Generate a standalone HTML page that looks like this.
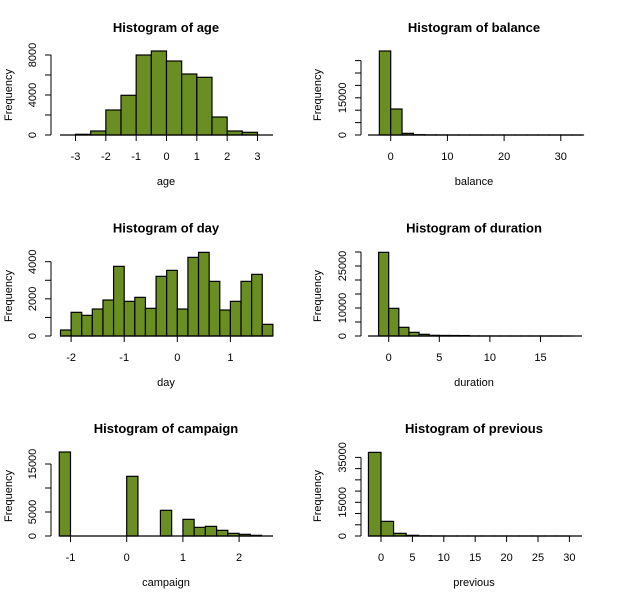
<!DOCTYPE html>
<html><head><meta charset="utf-8">
<style>
html,body{margin:0;padding:0;background:#fff;}
svg{display:block;font-family:"Liberation Sans",Arial,sans-serif;}
</style></head>
<body>
<svg id="chart" width="617" height="601" viewBox="0 0 617 601" xmlns="http://www.w3.org/2000/svg"></svg>
<script>
// ---- data ----
const ageCounts = [70, 400, 2500, 3970, 8000, 8400, 7400, 6100, 5770, 1800, 400, 270];
const ageBreakStart = -3, ageBinWidth = 0.5;
const ageXTicks = [-3, -2, -1, 0, 1, 2, 3];
const ageYTicks = [0, 2000, 4000, 6000, 8000];
const ageYLabels = ["0", "", "4000", "", "8000"];

const balanceCounts = [33870, 10480, 670, 120, 40, 20, 10, 5, 5, 3, 2, 2, 1, 1, 1, 1, 1, 1];
const balanceBreakStart = -2, balanceBinWidth = 2;
const balanceXTicks = [0, 10, 20, 30];
const balanceYTicks = [0, 5000, 10000, 15000, 20000, 25000, 30000];
const balanceYLabels = ["0", "", "", "15000", "", "", ""];

const dayCounts = [323, 1274, 1112, 1453, 1937, 3749, 1866, 2081, 1489, 3211, 3534, 1453, 4234, 4503, 2942, 1399, 1866, 2942, 3319, 628];
const dayBreakStart = -2.2, dayBinWidth = 0.2;
const dayXTicks = [-2, -1, 0, 1];
const dayYTicks = [0, 1000, 2000, 3000, 4000];
const dayYLabels = ["0", "", "2000", "", "4000"];

const durationCounts = [29880, 9880, 3100, 1310, 600, 240, 200, 180, 150, 30, 20, 10, 5, 5, 3, 2, 1, 1, 1];
const durationBreakStart = -1, durationBinWidth = 1;
const durationXTicks = [0, 5, 10, 15];
const durationYTicks = [0, 5000, 10000, 15000, 20000, 25000, 30000];
const durationYLabels = ["0", "", "10000", "", "", "25000", ""];

const campaignCounts = [17500, 0, 0, 0, 0, 0, 12430, 0, 0, 5350, 0, 3470, 1800, 2010, 1180, 555, 350, 140];
const campaignBreakStart = -1.2, campaignBinWidth = 0.2;
const campaignXTicks = [-1, 0, 1, 2];
const campaignYTicks = [0, 5000, 10000, 15000];
const campaignYLabels = ["0", "5000", "", "15000"];

const previousCounts = [37240, 6530, 1190, 300, 60, 20, 10, 5, 3, 2, 1, 1, 1, 1, 1, 1];
const previousBreakStart = -2, previousBinWidth = 2;
const previousXTicks = [0, 5, 10, 15, 20, 25, 30];
const previousYTicks = [0, 5000, 10000, 15000, 20000, 25000, 30000, 35000];
const previousYLabels = ["0", "", "", "15000", "", "", "", "35000"];

// ---- layout (not data) ----
const panels = [
 {name:"age", counts:ageCounts, start:ageBreakStart, bw:ageBinWidth, xt:ageXTicks, yt:ageYTicks, yl:ageYLabels,
  ax:51, x0:166.5, xPer:30.33, y0:135, yPer:10/1000, left:60, right:273, col:0, row:0},
 {name:"balance", counts:balanceCounts, start:balanceBreakStart, bw:balanceBinWidth, xt:balanceXTicks, yt:balanceYTicks, yl:balanceYLabels,
  ax:361, x0:390.7, xPer:5.67, y0:135, yPer:12.4/5000, left:368, right:582, col:1, row:0},
 {name:"day", counts:dayCounts, start:dayBreakStart, bw:dayBinWidth, xt:dayXTicks, yt:dayYTicks, yl:dayYLabels,
  ax:51, x0:177.3, xPer:53.1, y0:336, yPer:74.3/4000, left:60, right:273, col:0, row:1},
 {name:"duration", counts:durationCounts, start:durationBreakStart, bw:durationBinWidth, xt:durationXTicks, yt:durationYTicks, yl:durationYLabels,
  ax:361, x0:388.7, xPer:10.12, y0:336, yPer:14/5000, left:368, right:582, col:1, row:1},
 {name:"campaign", counts:campaignCounts, start:campaignBreakStart, bw:campaignBinWidth, xt:campaignXTicks, yt:campaignYTicks, yl:campaignYLabels,
  ax:51, x0:126.7, xPer:56.2, y0:536, yPer:72/15000, left:60, right:273, col:0, row:2},
 {name:"previous", counts:previousCounts, start:previousBreakStart, bw:previousBinWidth, xt:previousXTicks, yt:previousYTicks, yl:previousYLabels,
  ax:361, x0:381, xPer:6.28, y0:536, yPer:11.23/5000, left:368, right:582, col:1, row:2}
];

const NS = "http://www.w3.org/2000/svg";
const svg = document.getElementById("chart");
function mk(tag, attrs, parent){
  const e = document.createElementNS(NS, tag);
  for (const k in attrs) e.setAttribute(k, attrs[k]);
  (parent||svg).appendChild(e);
  return e;
}

panels.forEach(p => {
  const g = mk("g", {});
  
  
  const xs = v => p.x0 + v * p.xPer;
  const ys = v => p.y0 - v * p.yPer;
  const cx = p.col === 0 ? 166 : 474;
  const rowOff = p.row * 200.5;

  const t = mk("text", {x:cx, y:32 + rowOff, "text-anchor":"middle", "font-size":"13", "font-weight":"bold", fill:"#000"}, g);
  t.textContent = "Histogram of " + p.name;
  
  

  // bars
  p.counts.forEach((c, i) => {
    const a = p.start + i * p.bw, b = a + p.bw;
    const r = mk("rect", {x:xs(a), y:ys(c), width:xs(b)-xs(a), height:Math.max(0, p.y0 - ys(c)),
      fill:"#6B8E23", stroke:"#000", "stroke-width":"1.2"}, g);
    
    
  });

  // x axis
  const xl = mk("line", {x1:p.left, x2:p.right, y1:p.y0, y2:p.y0, stroke:"#000", "stroke-width":"1.2"}, g);
  
  
  p.xt.forEach(v => {
    mk("line", {x1:xs(v), x2:xs(v), y1:p.y0, y2:p.y0+6, stroke:"#000", "stroke-width":"1"}, g);
    const lt = mk("text", {x:xs(v), y:p.y0+25, "text-anchor":"middle", "font-size":"11", fill:"#000"}, g);
    lt.textContent = String(v);
    
    
  });
  const xt = mk("text", {x:cx, y:p.y0+50, "text-anchor":"middle", "font-size":"11", fill:"#000"}, g);
  xt.textContent = p.name;
  
  

  // y axis
  const top = p.yt[p.yt.length-1];
  const yl = mk("line", {x1:p.ax, x2:p.ax, y1:ys(0), y2:ys(top), stroke:"#000", "stroke-width":"1"}, g);
  
  
  p.yt.forEach((v, i) => {
    mk("line", {x1:p.ax-6, x2:p.ax, y1:ys(v), y2:ys(v), stroke:"#000", "stroke-width":"1"}, g);
    if (p.yl[i]) {
      const tx = p.ax - 18, ty = ys(v);
      const lt = mk("text", {x:tx, y:ty, "text-anchor":"middle", "font-size":"11", fill:"#000",
        transform:`rotate(-90 ${tx} ${ty})`, "dominant-baseline":"central"}, g);
      lt.textContent = p.yl[i];
      
      
    }
  });
  const fx = p.col === 0 ? 12 : 321, fy = p.y0 - 40;
  const ft = mk("text", {x:fx, y:fy, "text-anchor":"middle", "font-size":"11", fill:"#000",
    transform:`rotate(-90 ${fx} ${fy})`}, g);
  ft.textContent = "Frequency";
  
  
});
</script>
</body></html>
